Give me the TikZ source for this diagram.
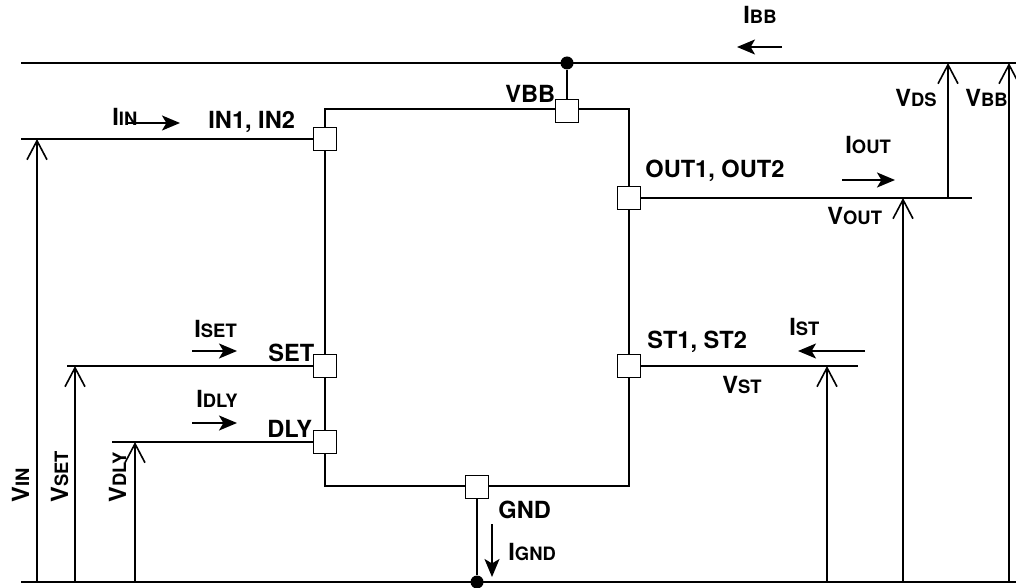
\documentclass[tikz,border=0pt]{standalone}
\usepackage{fontspec}
\setmainfont{TeX Gyre Heros}
\usetikzlibrary{positioning,arrows.meta}

\newcommand{\sig}[2]{#1{\fontsize{9.2}{10}\selectfont #2}}

\begin{document}
\begin{tikzpicture}[
      x=0.5pt, y=-0.5pt,
      wire/.style={line width=0.95pt},
      pin/.style={
        draw,
        fill=white,
        line width=0.9pt,
        minimum size=11.5pt,
        inner sep=0pt
      },
      lbl/.style={
        font=\fontsize{11.8}{13}\selectfont\bfseries,
        inner sep=0pt,
        anchor=base west
      },
      volt/.style={wire, -{Straight Barb[length=9.5pt,width=10pt,line width=0.8pt]}},
      curr/.style={wire, -{Stealth[length=9pt,width=7.5pt,inset=2.2pt]}},
      dot/.style={circle, fill, inner sep=0pt, minimum size=6.5pt}
    ]
    \useasboundingbox (0,0) rectangle (1016,588);
    %% Rails
    \coordinate (top-l) at (21,63);
    \coordinate (top-r) at (1016,63);
    \coordinate (bot-l) at (21,582);
    \coordinate (bot-r) at (1016,582);
    \draw[wire] (top-l) -- (top-r);
    \draw[wire] (bot-l) -- (bot-r);
    %% Chip
    \draw[wire] (325,109) rectangle (629,486);
    \node[pin] (p-vbb) at (567,111) {};
    \node[pin] (p-in) at (325,139) {};
    \node[pin] (p-out) at (629,198) {};
    \node[pin] (p-set) at (325,366) {};
    \node[pin] (p-st) at (629,366) {};
    \node[pin] (p-dly) at (325,442) {};
    \node[pin] (p-gnd) at (477,487) {};
    %% Supply and ground
    \node[dot] (d-vbb) at (567,63) {};
    \node[dot] (d-gnd) at (477,582) {};
    \draw[wire] (p-vbb) -- (d-vbb);
    \draw[wire] (p-gnd) -- (d-gnd);
    %% Pin lines
    \coordinate (in-end) at (21,139);
    \coordinate (set-end) at (67,366);
    \coordinate (dly-end) at (112,442);
    \coordinate (out-end) at (972,198);
    \coordinate (st-end) at (858,366);
    \draw[wire] (in-end) -- (p-in);
    \draw[wire] (set-end) -- (p-set);
    \draw[wire] (dly-end) -- (p-dly);
    \draw[wire] (p-out) -- (out-end);
    \draw[wire] (p-st) -- (st-end);
    %% Voltages
    \coordinate (v-in) at (37,139);
    \coordinate (v-set) at (75,366);
    \coordinate (v-dly) at (135,442);
    \coordinate (v-st) at (827,366);
    \coordinate (v-out) at (903,198);
    \coordinate (v-ds) at (948,63);
    \coordinate (v-bb) at (1009,63);
    \foreach \v in {v-in,v-set,v-dly,v-st,v-out,v-bb}
      \draw[volt] (\v |- bot-l) -- (\v);
    \draw[volt] (v-ds |- p-out) -- (v-ds);
    %% Currents
    \draw[curr] (782,47) -- (737,47);
    \draw[curr] (128,123) -- (180,123);
    \draw[curr] (842,180) -- (895,180);
    \draw[curr] (192,351) -- (237,351);
    \draw[curr] (192,423) -- (237,423);
    \draw[curr] (865,351) -- (798,351);
    \draw[curr] (492,524) -- (492,577);
    %% Labels
    \node[lbl] (l-ibb) at (743,24) {\sig{I}{BB}};
    \node[lbl] (l-iin) at (112,126) {\sig{I}{IN}};
    \node[lbl] (l-in) at (208,129) {IN1, IN2};
    \node[lbl] (l-vbbpin) at (505,103) {VBB};
    \node[lbl] (l-vds) at (895,107) {\sig{V}{DS}};
    \node[lbl] (l-vbb) at (965,107) {\sig{V}{BB}};
    \node[lbl] (l-iout) at (845,154) {\sig{I}{OUT}};
    \node[lbl] (l-out) at (645,177) {OUT1, OUT2};
    \node[lbl] (l-vout) at (827,225) {\sig{V}{OUT}};
    \node[lbl] (l-iset) at (194,337) {\sig{I}{SET}};
    \node[lbl] (l-set) at (268,361) {SET};
    \node[lbl] (l-idly) at (196,407) {\sig{I}{DLY}};
    \node[lbl] (l-dly) at (267,437) {DLY};
    \node[lbl] (l-ist) at (789,335) {\sig{I}{ST}};
    \node[lbl] (l-st) at (647,348) {ST1, ST2};
    \node[lbl] (l-vst) at (722,393) {\sig{V}{ST}};
    \node[lbl] (l-gnd) at (498,518) {GND};
    \node[lbl] (l-ignd) at (508,560) {\sig{I}{GND}};
    \node[lbl, rotate=90] (l-vin) at (29,503) {\sig{V}{IN}};
    \node[lbl, rotate=90] (l-vset) at (68,503) {\sig{V}{SET}};
    \node[lbl, rotate=90] (l-vdly) at (126,503) {\sig{V}{DLY}};
  \end{tikzpicture}
\end{document}
